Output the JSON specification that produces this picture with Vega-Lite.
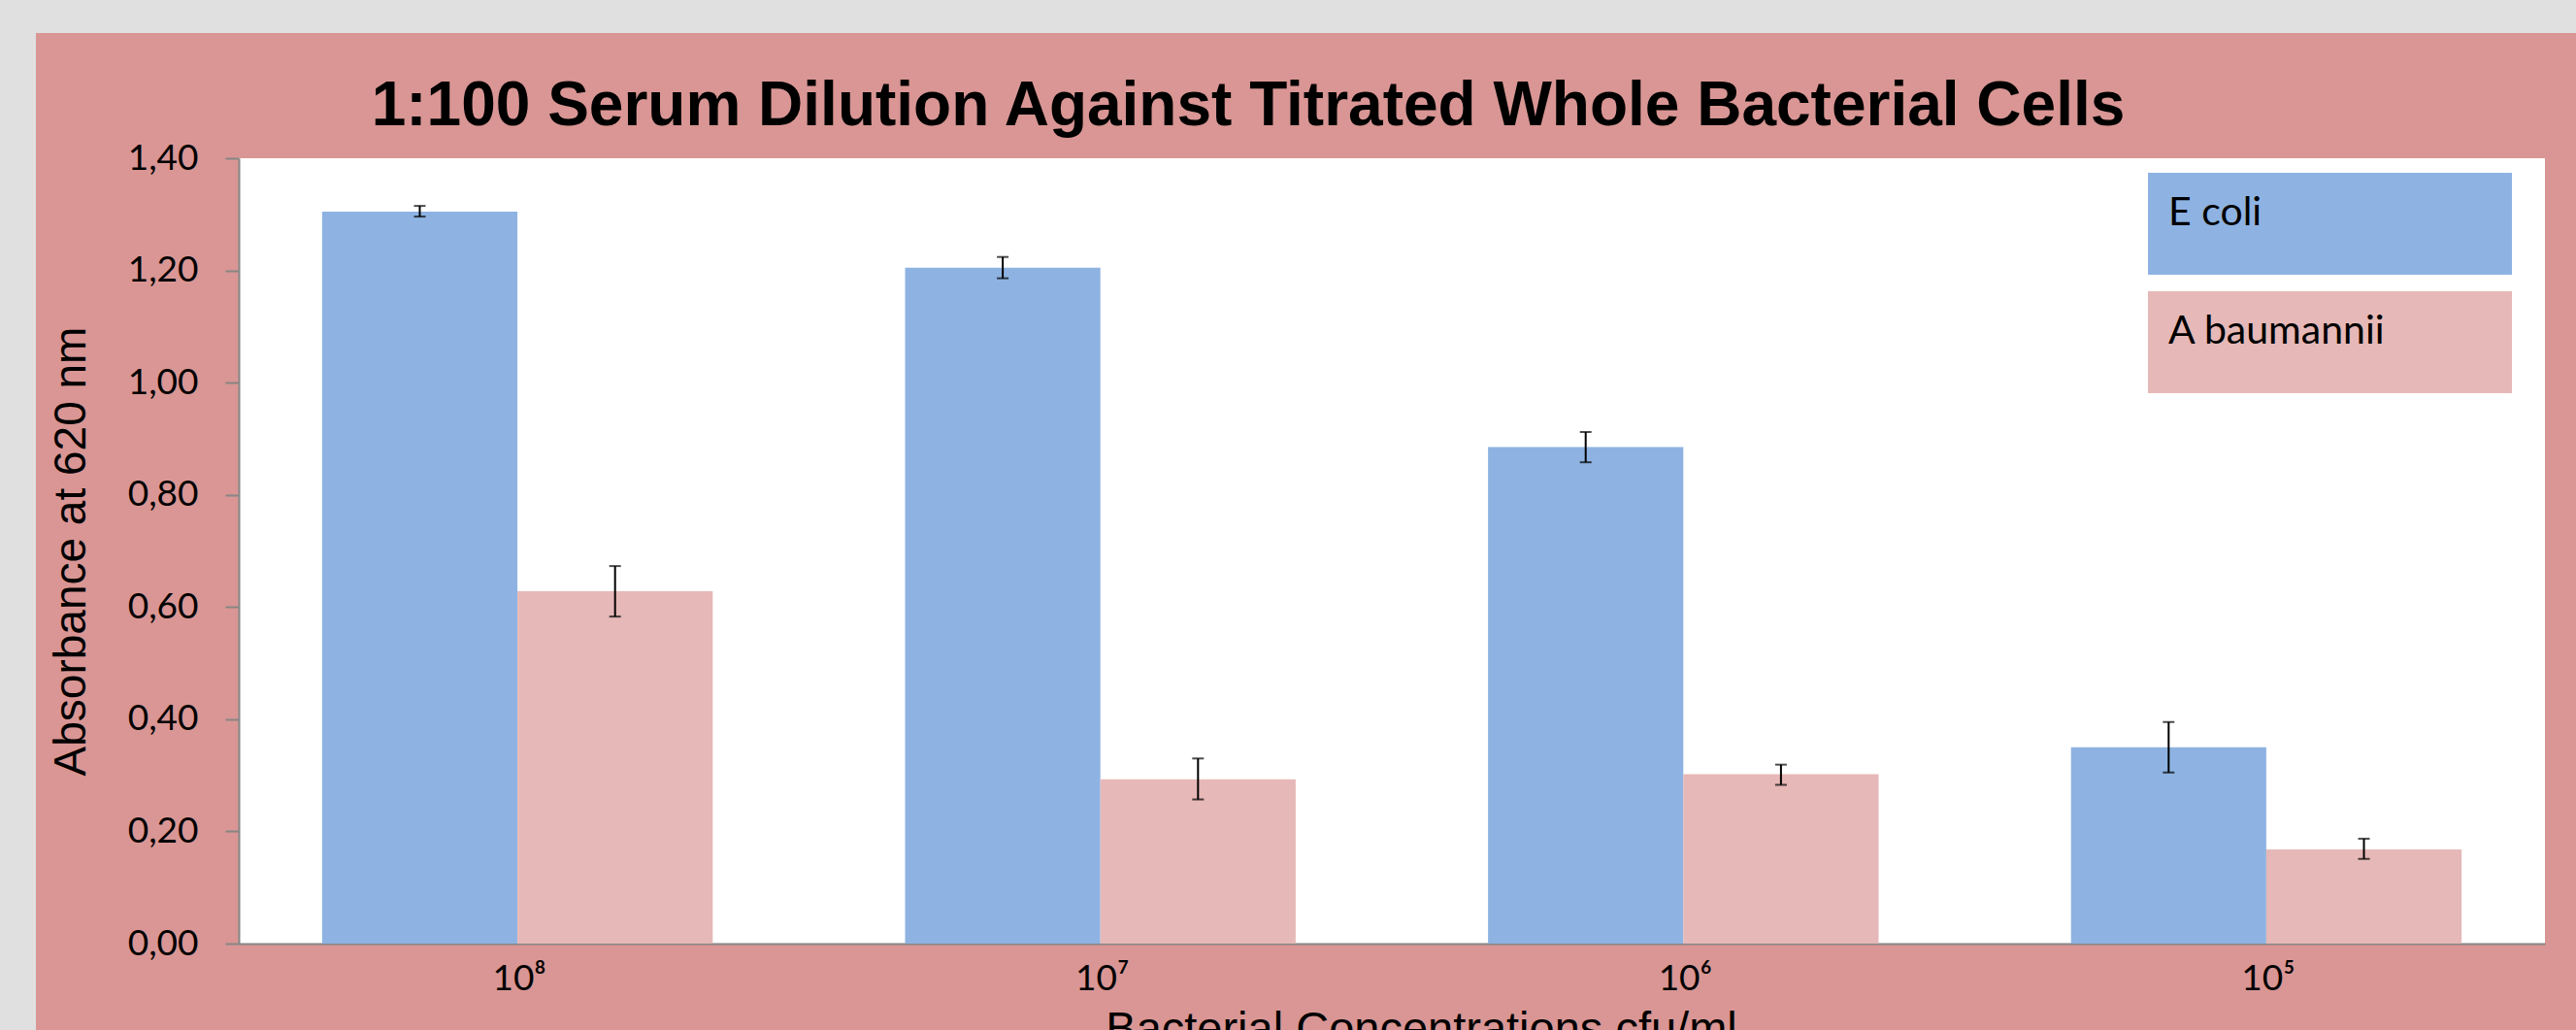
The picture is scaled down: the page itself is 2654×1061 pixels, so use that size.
{
  "$schema": "https://vega.github.io/schema/vega-lite/v6.json",
  "usermeta": {"embedOptions": {"actions": false}},
  "background": "#D99694",
  "padding": 0,
  "spacing": 0,
  "config": {"view": {"stroke": null}},
  "vconcat": [
    {
      "width": 2654,
      "height": 34,
      "view": {"fill": "#E0E0E0", "stroke": null},
      "data": {"values": []},
      "mark": "rect",
      "encoding": {}
    },
    {
      "spacing": 13,
      "hconcat": [
        {
          "width": 37,
          "height": 1027,
          "view": {"fill": "#E0E0E0", "stroke": null},
          "data": {"values": []},
          "mark": "rect",
          "encoding": {}
        },
        {
          "spacing": 43,
          "vconcat": [
            {
              "width": 1,
              "height": 1,
              "view": {"stroke": null},
              "data": {"values": []},
              "mark": "rect",
              "encoding": {}
            },
            {
              "width": 2376,
              "height": 809,
              "view": {"fill": "white", "stroke": null},
              "title": {
                "text": "1:100 Serum Dilution Against Titrated Whole Bacterial Cells",
                "font": "Liberation Sans",
                "fontSize": 64,
                "fontWeight": "bold",
                "color": "black",
                "anchor": "middle",
                "frame": "group",
                "dx": -148,
                "baseline": "alphabetic",
                "offset": -49
              },
              "data": {
                "values": [
                  {"conc": "10⁸", "series": "E coli", "value": 1.305, "lo": 1.296, "hi": 1.315},
                  {"conc": "10⁸", "series": "A baumannii", "value": 0.628, "lo": 0.583, "hi": 0.673},
                  {"conc": "10⁷", "series": "E coli", "value": 1.205, "lo": 1.186, "hi": 1.224},
                  {"conc": "10⁷", "series": "A baumannii", "value": 0.293, "lo": 0.257, "hi": 0.33},
                  {"conc": "10⁶", "series": "E coli", "value": 0.885, "lo": 0.858, "hi": 0.912},
                  {"conc": "10⁶", "series": "A baumannii", "value": 0.302, "lo": 0.283, "hi": 0.319},
                  {"conc": "10⁵", "series": "E coli", "value": 0.35, "lo": 0.305, "hi": 0.395},
                  {"conc": "10⁵", "series": "A baumannii", "value": 0.168, "lo": 0.151, "hi": 0.187}
                ]
              },
              "encoding": {
                "x": {
                  "field": "conc",
                  "type": "nominal",
                  "sort": null,
                  "scale": {"paddingInner": 0.33, "paddingOuter": 0.143},
                  "axis": {
                    "title": "Bacterial Concentrations cfu/ml",
                    "titleFont": "Liberation Sans",
                    "titleFontSize": 47,
                    "titleFontWeight": "normal",
                    "titleColor": "black",
                    "titlePadding": 11,
                    "titleX": 1218,
                    "labelAngle": 0,
                    "labelFont": "Lato",
                    "labelFontSize": 37,
                    "labelColor": "black",
                    "labelBaseline": "top",
                    "labelPadding": 18,
                    "labelOffset": 2,
                    "ticks": false,
                    "domainColor": "#868686",
                    "domainWidth": 2,
                    "grid": false
                  }
                },
                "xOffset": {"field": "series", "type": "nominal", "sort": ["E coli", "A baumannii"]}
              },
              "layer": [
                {
                  "mark": {"type": "bar"},
                  "encoding": {
                    "y": {
                      "field": "value",
                      "type": "quantitative",
                      "scale": {"domain": [0, 1.4], "nice": false},
                      "axis": {
                        "title": "Absorbance at 620 nm",
                        "titleFont": "Liberation Sans",
                        "titleFontSize": 46,
                        "titleFontWeight": "normal",
                        "titleColor": "black",
                        "titlePadding": 34,
                        "values": [0, 0.2, 0.4, 0.6, 0.8, 1.0, 1.2, 1.4],
                        "labelExpr": "replace(format(datum.value, '.2f'), '.', ',')",
                        "labelFont": "Lato",
                        "labelFontSize": 37,
                        "labelColor": "black",
                        "labelPadding": 28,
                        "labelFlush": false,
                        "labelOverlap": false,
                        "tickSize": 14,
                        "tickColor": "#868686",
                        "tickWidth": 2,
                        "domainColor": "#868686",
                        "domainWidth": 2,
                        "grid": false
                      }
                    },
                    "color": {
                      "field": "series",
                      "type": "nominal",
                      "sort": ["E coli", "A baumannii"],
                      "scale": {"domain": ["E coli", "A baumannii"], "range": ["#8EB3E2", "#E6B8B7"]},
                      "legend": {
                        "orient": "none",
                        "legendX": 2213,
                        "legendY": 178,
                        "title": null,
                        "direction": "vertical",
                        "symbolType": "M-1,-1H1V-0.44H-1Z",
                        "symbolSize": 140625,
                        "symbolStrokeWidth": 0,
                        "symbolOpacity": 1,
                        "labelOffset": -354,
                        "labelFont": "Lato",
                        "labelFontSize": 41,
                        "labelColor": "black",
                        "labelLimit": 400,
                        "rowPadding": 17,
                        "padding": 0,
                        "encode": {
                          "labels": {"update": {"dy": {"value": -146}}}
                        }
                      }
                    }
                  }
                },
                {
                  "mark": {"type": "rule", "color": "black", "strokeWidth": 2},
                  "encoding": {
                    "y": {"field": "lo", "type": "quantitative"},
                    "y2": {"field": "hi"}
                  }
                },
                {
                  "mark": {"type": "tick", "color": "black", "thickness": 2, "size": 12},
                  "encoding": {"y": {"field": "hi", "type": "quantitative"}}
                },
                {
                  "mark": {"type": "tick", "color": "black", "thickness": 2, "size": 12},
                  "encoding": {"y": {"field": "lo", "type": "quantitative"}}
                }
              ]
            }
          ]
        }
      ]
    }
  ]
}
